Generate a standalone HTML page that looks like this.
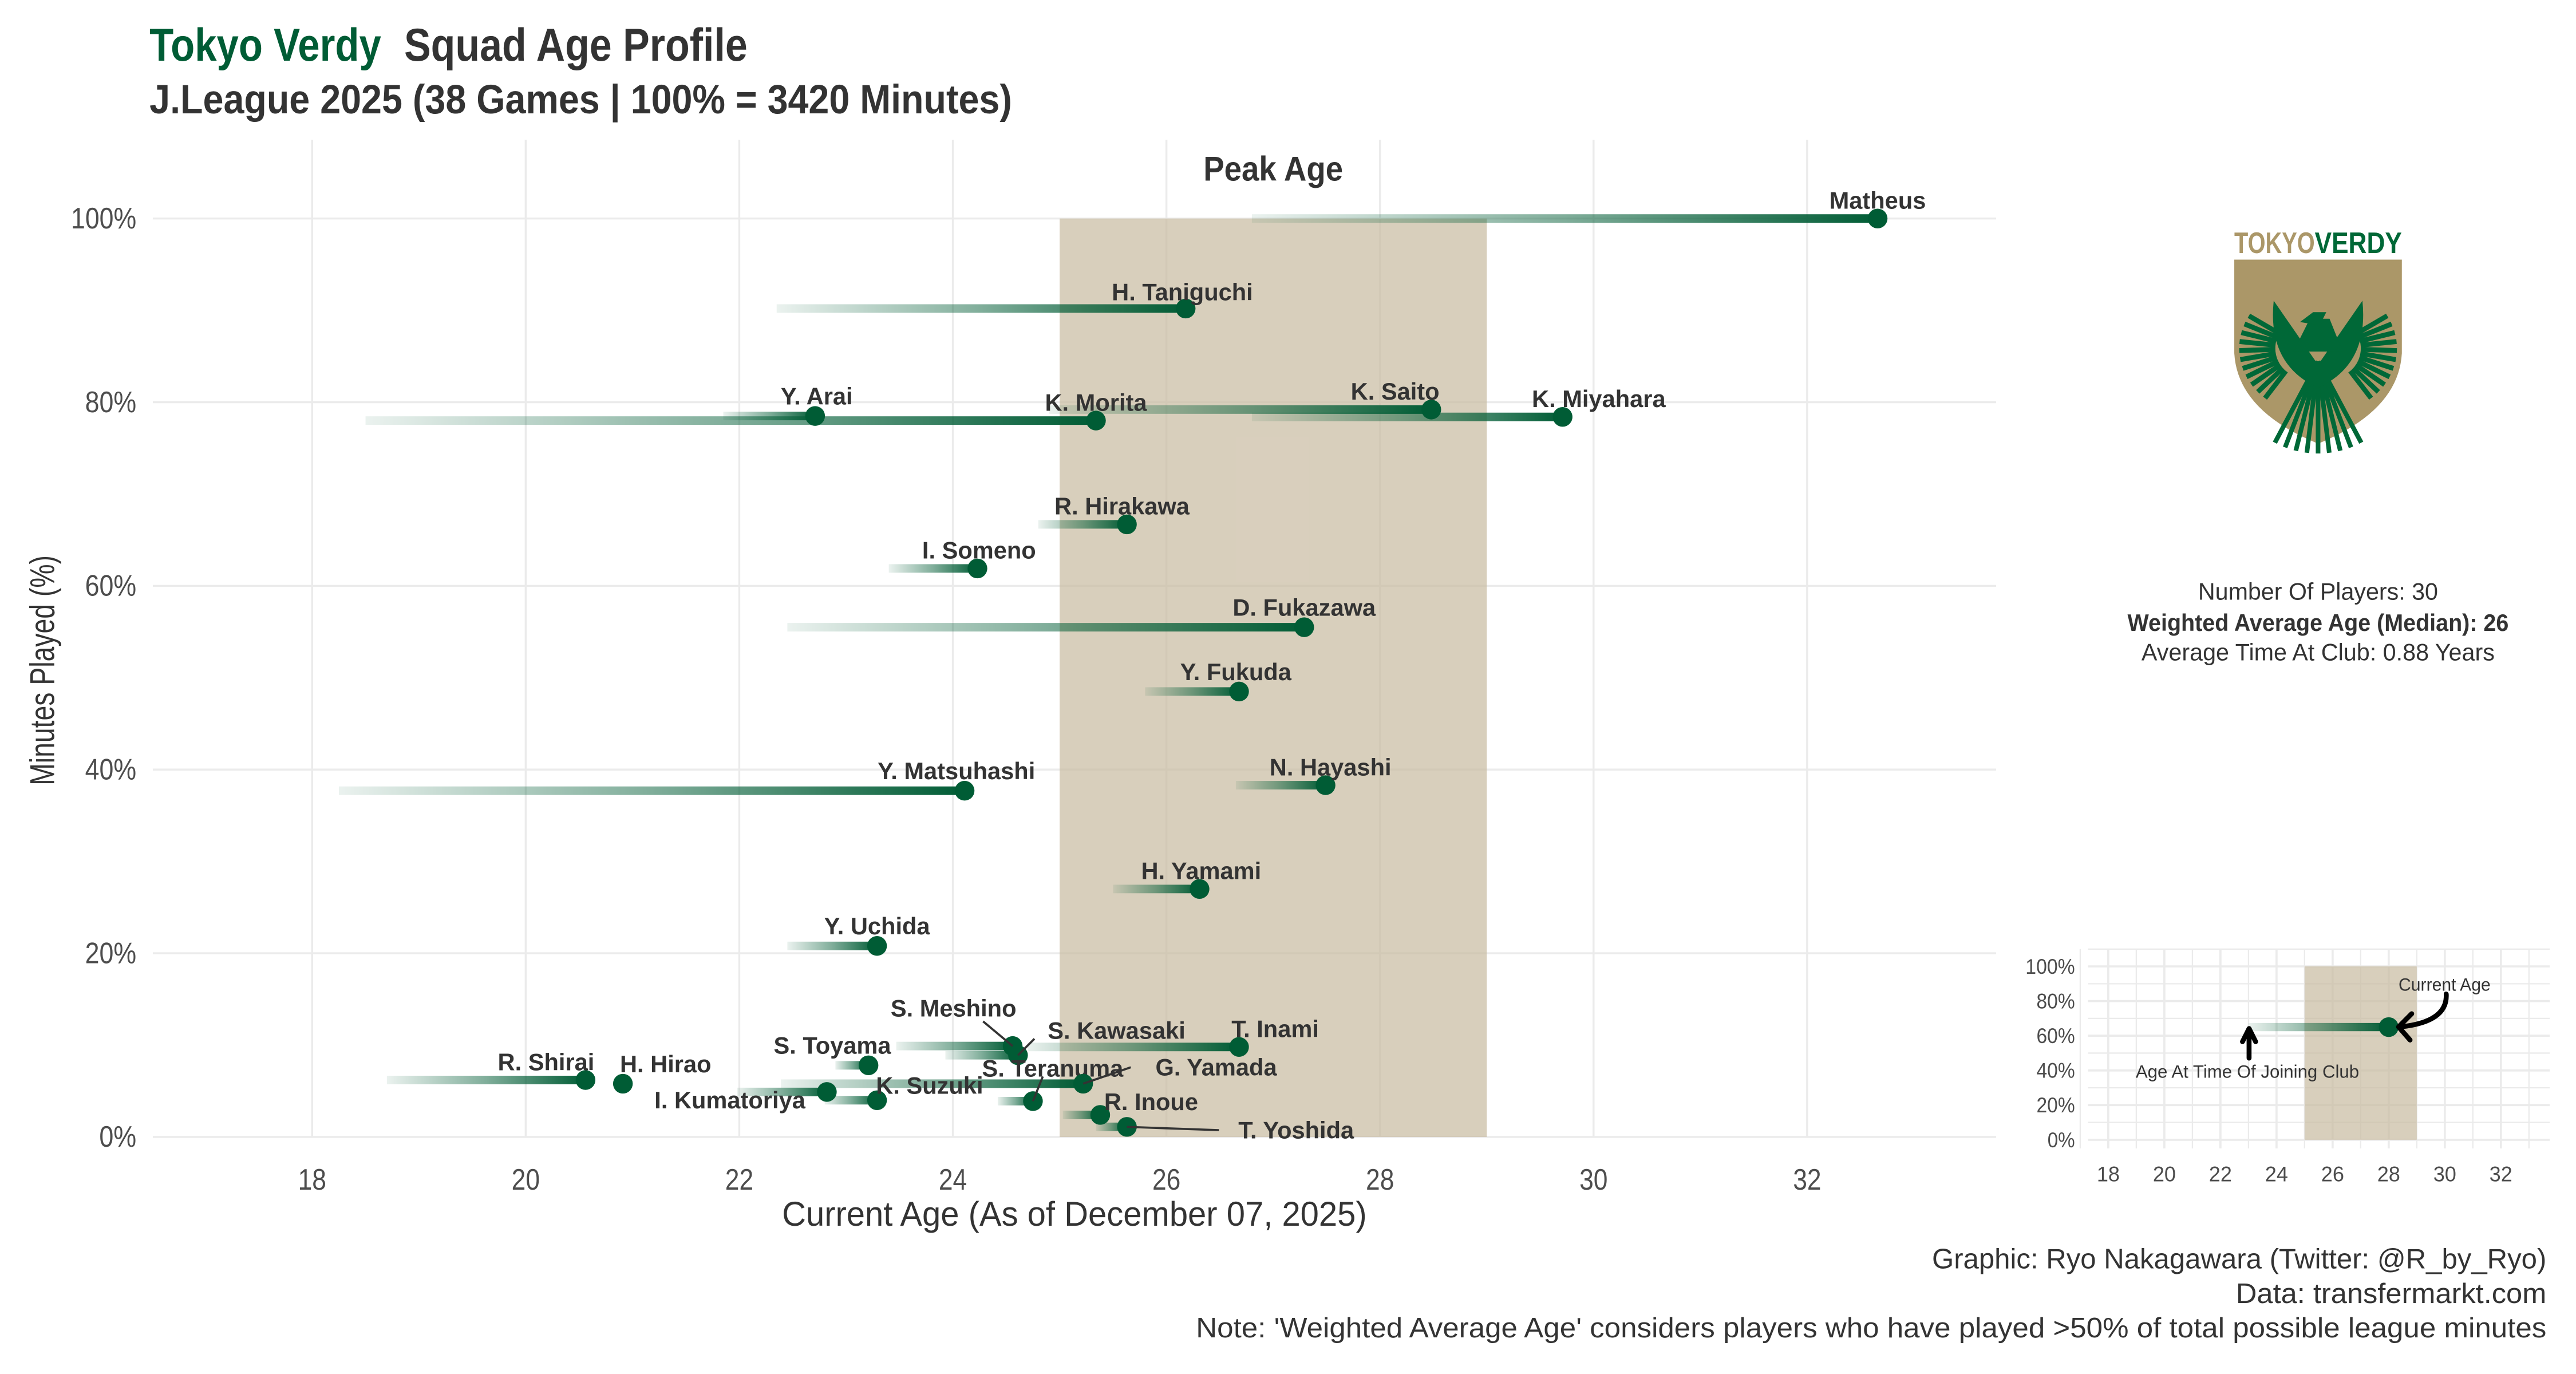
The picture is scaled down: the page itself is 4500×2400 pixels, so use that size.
<!DOCTYPE html>
<html><head><meta charset="utf-8"><style>
html,body{margin:0;padding:0;background:#fff}
svg{display:block}
text{font-family:"Liberation Sans Narrow","Liberation Sans",sans-serif}
.lbl{font-family:"Liberation Sans",sans-serif;font-weight:bold;font-size:14.5px;fill:#333}
</style></head><body>
<svg id="chart" width="4500" height="2400" viewBox="0 0 1568 836.27" xmlns="http://www.w3.org/2000/svg">
<defs>
<linearGradient id="fade" x1="0" x2="1" y1="0" y2="0">
<stop offset="0" stop-color="#005c35" stop-opacity="0.08"/>
<stop offset="0.5" stop-color="#005c35" stop-opacity="0.5"/>
<stop offset="1" stop-color="#005c35" stop-opacity="1"/>
</linearGradient>
</defs>
<g>
<text x="91" y="37" font-size="28" font-weight="bold" fill="#005c35" textLength="141" lengthAdjust="spacingAndGlyphs">Tokyo Verdy</text>
<text x="246" y="37" font-size="28" font-weight="bold" fill="#333" textLength="209" lengthAdjust="spacingAndGlyphs">Squad Age Profile</text>
<text x="91" y="69" font-size="25" font-weight="bold" fill="#333" textLength="525" lengthAdjust="spacingAndGlyphs">J.League 2025 (38 Games | 100% = 3420 Minutes)</text>
</g>
<g id="main"></g>
<g id="inset"></g>
<g>
<text x="1360" y="154" font-size="18" font-weight="bold" fill="#ab9768" textLength="49" lengthAdjust="spacingAndGlyphs" font-family="Liberation Sans">TOKYO</text>
<text x="1409" y="154" font-size="18" font-weight="bold" fill="#006837" textLength="53" lengthAdjust="spacingAndGlyphs" font-family="Liberation Sans">VERDY</text>
<path d="M1360,158 H1462 V215 Q1460,250 1411,270 Q1362,250 1360,215 Z" fill="#ab9768"/>
<g id="eagle" fill="#006837" stroke="#006837"></g>
</g>
<g fill="#333" text-anchor="middle">
<text x="1411" y="365" font-size="14.5" textLength="146" lengthAdjust="spacingAndGlyphs">Number Of Players: 30</text>
<text x="1411" y="384" font-size="14.5" font-weight="bold" textLength="232" lengthAdjust="spacingAndGlyphs">Weighted Average Age (Median): 26</text>
<text x="1411" y="402" font-size="14.5" textLength="215" lengthAdjust="spacingAndGlyphs">Average Time At Club: 0.88 Years</text>
</g>
<g fill="#333" text-anchor="end" font-size="17">
<text x="1550" y="772" textLength="374" lengthAdjust="spacingAndGlyphs">Graphic: Ryo Nakagawara (Twitter: @R_by_Ryo)</text>
<text x="1550" y="793" textLength="189" lengthAdjust="spacingAndGlyphs">Data: transfermarkt.com</text>
<text x="1550" y="814" textLength="822" lengthAdjust="spacingAndGlyphs">Note: 'Weighted Average Age' considers players who have played &gt;50% of total possible league minutes</text>
</g>
</svg>
<script>
const playerNames=["Matheus","H. Taniguchi","Y. Arai","K. Morita","K. Saito","K. Miyahara","R. Hirakawa","I. Someno","D. Fukazawa","Y. Fukuda","N. Hayashi","Y. Matsuhashi","H. Yamami","Y. Uchida","S. Meshino","S. Kawasaki","T. Inami","S. Toyama","R. Shirai","H. Hirao","S. Teranuma","G. Yamada","I. Kumatoriya","K. Suzuki","R. Inoue","T. Yoshida"];
const currentAge=[32.66,26.18,22.71,25.34,28.48,29.71,25.63,24.23,27.29,26.68,27.49,24.11,26.31,23.29,24.56,24.61,26.68,23.21,20.56,20.91,24.75,25.22,22.82,23.29,25.38,25.63];
const joinAge=[26.8,22.35,21.85,18.5,24.9,26.8,24.8,23.4,22.45,25.8,26.65,18.25,25.5,22.45,23.47,23.93,24.7,22.9,18.7,20.91,24.42,22.39,21.98,22.8,25.03,25.34];
const minutesPct=[100,90.2,78.5,78,79.2,78.4,66.7,61.9,55.5,48.5,38.3,37.7,27,20.8,9.9,8.9,9.8,7.8,6.2,5.8,3.9,5.8,4.9,4.0,2.4,1.1];
const labelDx=[0,-2,1,0,-22,22,-3,1,0,-2,3,-5,1,0,-36,60,22,-22,-24,26,12,81,-59,32,31,103];
const labelDy=[-11,-10,-12,-11,-11,-11,-11,-11,-12,-12,-11,-12,-11,-12,-23,-15,-11,-12,-11,-12,-20,-10,5,-9,-8,2];
const leaderDx=[0,0,0,0,0,0,0,0,0,0,0,0,0,0,-18,10,0,0,0,0,6,29,0,0,0,56];
const leaderDy=[0,0,0,0,0,0,0,0,0,0,0,0,0,0,-15,-10,0,0,0,0,-15,-10,0,0,0,2];
const xTicks=[18,20,22,24,26,28,30,32];
const yTicks=[0,20,40,60,80,100];
const peakRange=[25,29];
const insetCurrent=[28], insetJoin=[23], insetPct=[65];

const NS="http://www.w3.org/2000/svg";
function mk(tag,attrs,parent,txt){const e=document.createElementNS(NS,tag);for(const k in attrs)e.setAttribute(k,attrs[k]);if(txt!==undefined)e.textContent=txt;parent.appendChild(e);return e;}
function tw(s,d,p){let w=0;for(const ch of s)w+=(ch==='%'?p:d);return w;}
const X=a=>190+(a-18)*65;
const Y=p=>692-p*5.59;
const main=document.getElementById('main');
const px0=93,px1=1215,py0=85,py1=692;
for(const t of yTicks){const l=mk('line',{x1:px0,x2:px1,y1:Y(t),y2:Y(t),stroke:'#ebebeb','stroke-width':1.2},main);

const s=t+'%';
const tx=mk('text',{x:83,y:Y(t)+6,'text-anchor':'end','font-size':18,fill:'#4d4d4d',textLength:tw(s,8.6,14),lengthAdjust:'spacingAndGlyphs'},main,s);
}
for(const t of xTicks){const l=mk('line',{x1:X(t),x2:X(t),y1:py0,y2:py1,stroke:'#ebebeb','stroke-width':1.2},main);

const s=String(t);
const tx=mk('text',{x:X(t),y:724,'text-anchor':'middle','font-size':18,fill:'#4d4d4d',textLength:tw(s,8.6,14),lengthAdjust:'spacingAndGlyphs'},main,s);
}
const pk=mk('rect',{x:X(peakRange[0]),y:Y(100),width:X(peakRange[1])-X(peakRange[0]),height:Y(0)-Y(100),fill:'#c8baa0','fill-opacity':0.7},main);

const pt=mk('text',{x:(X(peakRange[0])+X(peakRange[1]))/2,y:110,'text-anchor':'middle','font-size':21,'font-weight':'bold',fill:'#333',textLength:85,lengthAdjust:'spacingAndGlyphs'},main,'Peak Age');

const xt=mk('text',{x:654,y:746,'text-anchor':'middle','font-size':21,fill:'#333',textLength:356,lengthAdjust:'spacingAndGlyphs'},main,'Current Age (As of December 07, 2025)');

const yt=mk('text',{x:0,y:0,'text-anchor':'middle','font-size':21,fill:'#333',transform:'translate(33,408) rotate(-90)',textLength:140,lengthAdjust:'spacingAndGlyphs'},main,'Minutes Played (%)');

for(let i=0;i<playerNames.length;i++){
 const x0=X(joinAge[i]),x1=X(currentAge[i]),y=Y(minutesPct[i]);
 if(x1-x0>1){const r=mk('rect',{x:x0,y:y-2.6,width:x1-x0,height:5.2,fill:'url(#fade)'},main);
 }
}
for(let i=0;i<playerNames.length;i++){
 const x1=X(currentAge[i]),y=Y(minutesPct[i]);
 const c=mk('circle',{cx:x1,cy:y,r:6,fill:'#005c35'},main);
 
 if(leaderDx[i]||leaderDy[i]){const ln=mk('line',{x1:x1,y1:y,x2:x1+leaderDx[i],y2:y+leaderDy[i],stroke:'#333','stroke-width':1.3},main);
 }
 const t=mk('text',{x:x1+labelDx[i],y:y+labelDy[i]+5,'text-anchor':'middle',class:'lbl'},main,playerNames[i]);
 
}
// inset
const ins=document.getElementById('inset');
const IX=a=>1283.3+(a-18)*17.07;
const IY=p=>693.7-p*1.055;
for(let p=0;p<=110;p+=10){const l=mk('line',{x1:1271,x2:1552,y1:IY(p),y2:IY(p),stroke:'#ebebeb','stroke-width':p%20===0?1.3:0.8},ins);
}
for(let a=17;a<=33;a++){const l=mk('line',{x1:IX(a),x2:IX(a),y1:IY(110),y2:IY(-5),stroke:'#ebebeb','stroke-width':a%2===0?1.3:0.8},ins);
}
for(const t of yTicks){const s=t+'%';const tx=mk('text',{x:1263,y:IY(t)+4.5,'text-anchor':'end','font-size':13,fill:'#4d4d4d',textLength:tw(s,6.7,10),lengthAdjust:'spacingAndGlyphs'},ins,s);
}
for(const t of xTicks){const s=String(t);const tx=mk('text',{x:IX(t),y:719,'text-anchor':'middle','font-size':13,fill:'#4d4d4d',textLength:tw(s,7,10),lengthAdjust:'spacingAndGlyphs'},ins,s);
}
const ipk=mk('rect',{x:IX(peakRange[0]),y:IY(100),width:IX(peakRange[1])-IX(peakRange[0]),height:IY(0)-IY(100),fill:'#c8baa0','fill-opacity':0.7},ins);

const il=mk('rect',{x:IX(insetJoin[0]),y:IY(insetPct[0])-2.5,width:IX(insetCurrent[0])-IX(insetJoin[0]),height:5,fill:'url(#fade)'},ins);

const ic=mk('circle',{cx:IX(insetCurrent[0]),cy:IY(insetPct[0]),r:6,fill:'#005c35'},ins);

const a1=mk('path',{d:'M1489,605 Q1490,622 1461,625 M1468,617 L1460,625 L1467,633',fill:'none',stroke:'#000','stroke-width':3,'stroke-linecap':'round','stroke-linejoin':'round'},ins);

const a2=mk('path',{d:'M1369,644 L1369,627 M1365,634 L1369,626 L1373,634',fill:'none',stroke:'#000','stroke-width':3,'stroke-linecap':'round','stroke-linejoin':'round'},ins);

const t1=mk('text',{x:1488,y:603,'text-anchor':'middle','font-size':11,fill:'#333',textLength:56,lengthAdjust:'spacingAndGlyphs'},ins,'Current Age');

const t2=mk('text',{x:1368,y:656,'text-anchor':'middle','font-size':11,fill:'#333',textLength:136,lengthAdjust:'spacingAndGlyphs'},ins,'Age At Time Of Joining Club');

// eagle
const eg=document.getElementById('eagle');
const cx=1411,cy=212;
for(let k=0;k<=10;k++){const ang=(150+k*8)*Math.PI/180;
 mk('line',{x1:cx+18*Math.cos(ang)-8,y1:cy-18*Math.sin(ang),x2:cx+44*Math.cos(ang)-4,y2:cy-44*Math.sin(ang)*0.9,'stroke-width':3},eg);
 const ang2=(30-k*8)*Math.PI/180;
 mk('line',{x1:cx+18*Math.cos(ang2)+8,y1:cy-18*Math.sin(ang2),x2:cx+44*Math.cos(ang2)+4,y2:cy-44*Math.sin(ang2)*0.9,'stroke-width':3},eg);}
for(let k=0;k<=8;k++){const ang=(62+k*7)*Math.PI/180;
 mk('line',{x1:cx,y1:cy+8,x2:cx+56*Math.cos(ang),y2:cy+8+56*Math.sin(ang),'stroke-width':2.8},eg);}
mk('path',{d:'M1384,183 L1411,222 L1438,183 Q1442,222 1411,236 Q1380,222 1384,183 Z',stroke:'none'},eg);
mk('path',{d:'M1396,214 L1406,194 L1418,194 L1426,214 Z',stroke:'none'},eg);
mk('path',{d:'M1400,196 L1408,190 L1416,190 L1412,198 Z',stroke:'none'},eg);
</script>
</body></html>
